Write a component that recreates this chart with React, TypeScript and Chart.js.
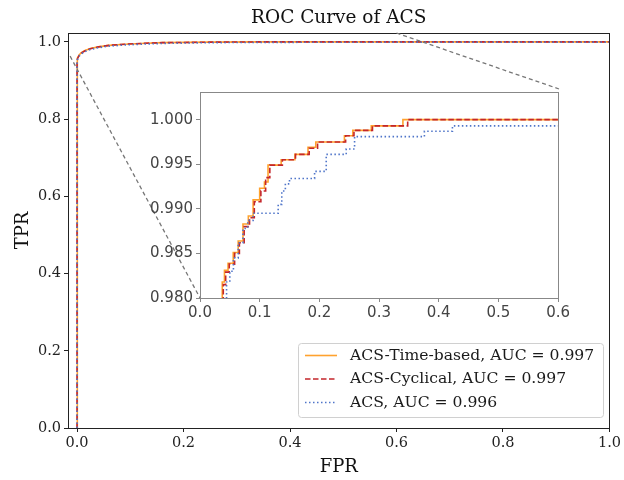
import React, { useEffect, useRef } from 'react';
import { Chart, registerables } from 'chart.js';
Chart.register(...registerables);

const TITLE = 'ROC Curve of ACS';
const X_LABEL = 'FPR';
const Y_LABEL = 'TPR';
const SERIES_NAMES = ['ACS-Time-based, AUC = 0.997', 'ACS-Cyclical, AUC = 0.997', 'ACS, AUC = 0.996'];

const mainTicks = [0, 0.2, 0.4, 0.6, 0.8, 1.0];
const insetXTicks = [0, 0.1, 0.2, 0.3, 0.4, 0.5, 0.6];
const insetYTicks = [0.98, 0.985, 0.99, 0.995, 1.0];

// Main (full) ROC curves
const mainFprTime = [0, 0, 0.001, 0.004, 0.008, 0.015, 0.025, 0.04, 0.06, 0.09, 0.12, 0.16, 0.25, 0.35, 0.6, 1.0];
const mainTprTime = [0, 0.95, 0.958, 0.966, 0.972, 0.978, 0.983, 0.987, 0.991, 0.994, 0.996, 0.998, 0.9993, 1.0, 1.0, 1.0];
const mainFprCyc = [0, 0, 0.001, 0.004, 0.008, 0.015, 0.025, 0.04, 0.06, 0.09, 0.12, 0.16, 0.25, 0.35, 0.6, 1.0];
const mainTprCyc = [0, 0.95, 0.957, 0.965, 0.971, 0.977, 0.982, 0.987, 0.991, 0.994, 0.996, 0.998, 0.9993, 1.0, 1.0, 1.0];
const mainFprAcs = [0, 0, 0.001, 0.004, 0.008, 0.015, 0.025, 0.04, 0.06, 0.09, 0.12, 0.16, 0.25, 0.35, 0.6, 1.0];
const mainTprAcs = [0, 0.948, 0.955, 0.963, 0.969, 0.975, 0.98, 0.985, 0.989, 0.992, 0.994, 0.996, 0.998, 0.9987, 0.9993, 0.9993];

// Inset (zoomed) ROC curves, step corners
const insetFprTime = [0.0373, 0.0373, 0.041, 0.047, 0.0557, 0.064, 0.072, 0.081, 0.089, 0.1, 0.108, 0.114, 0.136, 0.159, 0.181, 0.194, 0.242, 0.256, 0.287, 0.34, 0.6];
const insetTprTime = [0.975, 0.9818, 0.9831, 0.9839, 0.9851, 0.9864, 0.9883, 0.9892, 0.991, 0.9923, 0.993, 0.9949, 0.9955, 0.9961, 0.9969, 0.9975, 0.9982, 0.9988, 0.9993, 1.0, 1.0];
const insetFprCyc = [0.039, 0.039, 0.043, 0.049, 0.058, 0.066, 0.074, 0.083, 0.091, 0.102, 0.11, 0.117, 0.138, 0.16, 0.183, 0.197, 0.244, 0.258, 0.289, 0.348, 0.6];
const insetTprCyc = [0.975, 0.9815, 0.9829, 0.9838, 0.985, 0.9862, 0.988, 0.989, 0.9908, 0.992, 0.9935, 0.9949, 0.9955, 0.9961, 0.9968, 0.9975, 0.9982, 0.9988, 0.9993, 1.0, 1.0];
const insetFprAcs = [0.0445, 0.0445, 0.05, 0.056, 0.064, 0.072, 0.08, 0.089, 0.131, 0.137, 0.143, 0.15, 0.192, 0.2115, 0.245, 0.259, 0.376, 0.423, 0.6];
const insetTprAcs = [0.975, 0.9818, 0.983, 0.9845, 0.9862, 0.9878, 0.9887, 0.9895, 0.9905, 0.992, 0.9928, 0.9934, 0.9942, 0.9961, 0.9967, 0.9981, 0.9987, 0.9993, 0.9993];

// Zoom-region anchor (data coords in main axes)
const zoomAnchorLow = { x: -0.013, y: 0.963 };
const zoomAnchorHigh = { x: 0.6, y: 1.023 };

const COLORS = ['#ffa22e', '#c4262b', '#4f75c9'];
const DASHES: number[][] = [[], [5.5, 2.5], [1.5, 2.5]];
const SERIF = "'DejaVu Serif', serif";
const SANS = "'DejaVu Sans', sans-serif";

// Layout constants
const W = 624, H = 480;
const MAIN = { left: 68, right: 611, top: 33, bottom: 428 };
const INSET_CANVAS = { left: 140, top: 80, width: 432, height: 244 };
const INSET = { left: 200, right: 559, top: 89, bottom: 298 };

const pts = (xs: number[], ys: number[]) => xs.map((x, i) => ({ x, y: ys[i] }));

function makeDatasets(sets: [number[], number[]][], stepped: boolean) {
  return sets.map(([xs, ys], i) => ({
    label: SERIES_NAMES[i],
    data: pts(xs, ys),
    borderColor: COLORS[i],
    backgroundColor: COLORS[i],
    borderWidth: 1.6,
    borderDash: DASHES[i],
    pointRadius: 0,
    fill: false,
    tension: 0,
    stepped: stepped ? ('before' as const) : false,
    order: 2 - i,
  }));
}

const framePlugin = (color: string, fillWhite: boolean) => ({
  id: 'frame',
  beforeDraw(chart: any) {
    if (!fillWhite) return;
    const { ctx, chartArea: a } = chart;
    ctx.save();
    ctx.fillStyle = '#ffffff';
    ctx.fillRect(a.left, a.top, a.right - a.left, a.bottom - a.top);
    ctx.restore();
  },
  afterDraw(chart: any) {
    const { ctx, chartArea: a } = chart;
    ctx.save();
    ctx.strokeStyle = color;
    ctx.lineWidth = 1;
    ctx.strokeRect(Math.round(a.left) + 0.5, Math.round(a.top) + 0.5, Math.round(a.right - a.left), Math.round(a.bottom - a.top));
    ctx.restore();
  },
});

const titleAndLegendPlugin = {
  id: 'titleLegend',
  afterDraw(chart: any) {
    const { ctx, chartArea: a, scales } = chart;
    ctx.save();
    // title
    ctx.fillStyle = '#111';
    ctx.font = `18.5px ${SERIF}`;
    ctx.textAlign = 'center';
    ctx.textBaseline = 'middle';
    ctx.fillText(TITLE, (a.left + a.right) / 2, 18);

    // zoom connectors
    ctx.strokeStyle = '#777';
    ctx.lineWidth = 1.3;
    ctx.setLineDash([4, 3]);
    ctx.beginPath();
    ctx.moveTo(scales.x.getPixelForValue(zoomAnchorLow.x), scales.y.getPixelForValue(zoomAnchorLow.y));
    ctx.lineTo(INSET.left, INSET.bottom);
    ctx.moveTo(scales.x.getPixelForValue(zoomAnchorHigh.x), scales.y.getPixelForValue(zoomAnchorHigh.y));
    ctx.lineTo(INSET.right, INSET.top);
    ctx.stroke();
    ctx.setLineDash([]);

    // legend
    const bx = 298, by = 343, bw = 305, bh = 74;
    ctx.fillStyle = 'rgba(255,255,255,0.9)';
    ctx.strokeStyle = '#d0d0d0';
    ctx.lineWidth = 1;
    ctx.beginPath();
    ctx.roundRect(bx + 0.5, by + 0.5, bw, bh, 3);
    ctx.fill();
    ctx.stroke();
    ctx.font = `15.6px ${SERIF}`;
    ctx.textAlign = 'left';
    ctx.textBaseline = 'middle';
    chart.data.datasets.forEach((ds: any, i: number) => {
      const yy = by + 12.5 + i * 23.5;
      ctx.strokeStyle = ds.borderColor;
      ctx.lineWidth = ds.borderWidth;
      ctx.setLineDash(ds.borderDash);
      ctx.beginPath();
      ctx.moveTo(bx + 7, yy);
      ctx.lineTo(bx + 39, yy);
      ctx.stroke();
      ctx.setLineDash([]);
      ctx.fillStyle = '#1a1a1a';
      ctx.fillText(ds.label, bx + 52, yy);
    });
    ctx.restore();
  },
};

export default function App() {
  const mainRef = useRef<HTMLCanvasElement>(null);
  const insetRef = useRef<HTMLCanvasElement>(null);

  useEffect(() => {
    const mainChart = new Chart(mainRef.current!, {
      type: 'line',
      data: {
        datasets: makeDatasets(
          [
            [mainFprTime, mainTprTime],
            [mainFprCyc, mainTprCyc],
            [mainFprAcs, mainTprAcs],
          ],
          false
        ) as any,
      },
      options: {
        responsive: false,
        animation: false,
        layout: { padding: { left: 0, right: W - MAIN.right, top: MAIN.top, bottom: 0 } },
        plugins: { legend: { display: false }, tooltip: { enabled: false }, title: { display: false } },
        scales: {
          x: {
            type: 'linear',
            min: -0.017,
            max: 1.0,
            afterBuildTicks: (s: any) => { s.ticks = mainTicks.map((v) => ({ value: v })); },
            afterFit: (s: any) => { s.height = H - MAIN.bottom; },
            ticks: { callback: (v: any) => Number(v).toFixed(1), color: '#222', font: { size: 14.5, family: SERIF }, padding: 3, maxRotation: 0, autoSkip: false },
            grid: { drawOnChartArea: false, drawTicks: true, tickLength: 4, color: '#222' },
            border: { display: true, color: '#222' },
            title: { display: true, text: X_LABEL, color: '#111', font: { size: 18, family: SERIF }, padding: { top: 0, bottom: 2 } },
          },
          y: {
            type: 'linear',
            min: 0,
            max: 1.023,
            afterBuildTicks: (s: any) => { s.ticks = mainTicks.map((v) => ({ value: v })); },
            afterFit: (s: any) => { s.width = MAIN.left; },
            ticks: { callback: (v: any) => Number(v).toFixed(1), color: '#222', font: { size: 14.5, family: SERIF }, padding: 3, autoSkip: false },
            grid: { drawOnChartArea: false, drawTicks: true, tickLength: 4, color: '#222' },
            border: { display: true, color: '#222' },
            title: { display: true, text: Y_LABEL, color: '#111', font: { size: 18, family: SERIF }, padding: { top: 13, bottom: 0 } },
          },
        },
      },
      plugins: [framePlugin('#222', false), titleAndLegendPlugin],
    });

    const insetChart = new Chart(insetRef.current!, {
      type: 'line',
      data: {
        datasets: makeDatasets(
          [
            [insetFprTime, insetTprTime],
            [insetFprCyc, insetTprCyc],
            [insetFprAcs, insetTprAcs],
          ],
          true
        ) as any,
      },
      options: {
        responsive: false,
        animation: false,
        layout: {
          padding: {
            left: 0,
            right: INSET_CANVAS.left + INSET_CANVAS.width - INSET.right,
            top: INSET.top - INSET_CANVAS.top,
            bottom: 0,
          },
        },
        plugins: { legend: { display: false }, tooltip: { enabled: false }, title: { display: false } },
        scales: {
          x: {
            type: 'linear',
            min: 0,
            max: 0.6,
            afterBuildTicks: (s: any) => { s.ticks = insetXTicks.map((v) => ({ value: v })); },
            afterFit: (s: any) => { s.height = INSET_CANVAS.top + INSET_CANVAS.height - INSET.bottom; },
            ticks: { callback: (v: any) => Number(v).toFixed(1), color: '#444', font: { size: 15, family: SANS }, padding: 2, maxRotation: 0, autoSkip: false },
            grid: { drawOnChartArea: false, drawTicks: true, tickLength: 4, color: '#888' },
            border: { display: true, color: '#888' },
          },
          y: {
            type: 'linear',
            min: 0.98,
            max: 1.0031,
            afterBuildTicks: (s: any) => { s.ticks = insetYTicks.map((v) => ({ value: v })); },
            afterFit: (s: any) => { s.width = INSET.left - INSET_CANVAS.left; },
            ticks: { callback: (v: any) => Number(v).toFixed(3), color: '#444', font: { size: 15, family: SANS }, padding: 3, autoSkip: false },
            grid: { drawOnChartArea: false, drawTicks: true, tickLength: 4, color: '#888' },
            border: { display: true, color: '#888' },
          },
        },
      },
      plugins: [framePlugin('#888', true)],
    });

    return () => {
      mainChart.destroy();
      insetChart.destroy();
    };
  }, []);

  return (
    <div style={{ position: 'fixed', left: 0, top: 0, width: W, height: H, background: '#fff' }}>
      <canvas ref={mainRef} width={W} height={H} style={{ position: 'absolute', left: 0, top: 0 }} />
      <canvas
        ref={insetRef}
        width={INSET_CANVAS.width}
        height={INSET_CANVAS.height}
        style={{ position: 'absolute', left: INSET_CANVAS.left, top: INSET_CANVAS.top }}
      />
    </div>
  );
}
